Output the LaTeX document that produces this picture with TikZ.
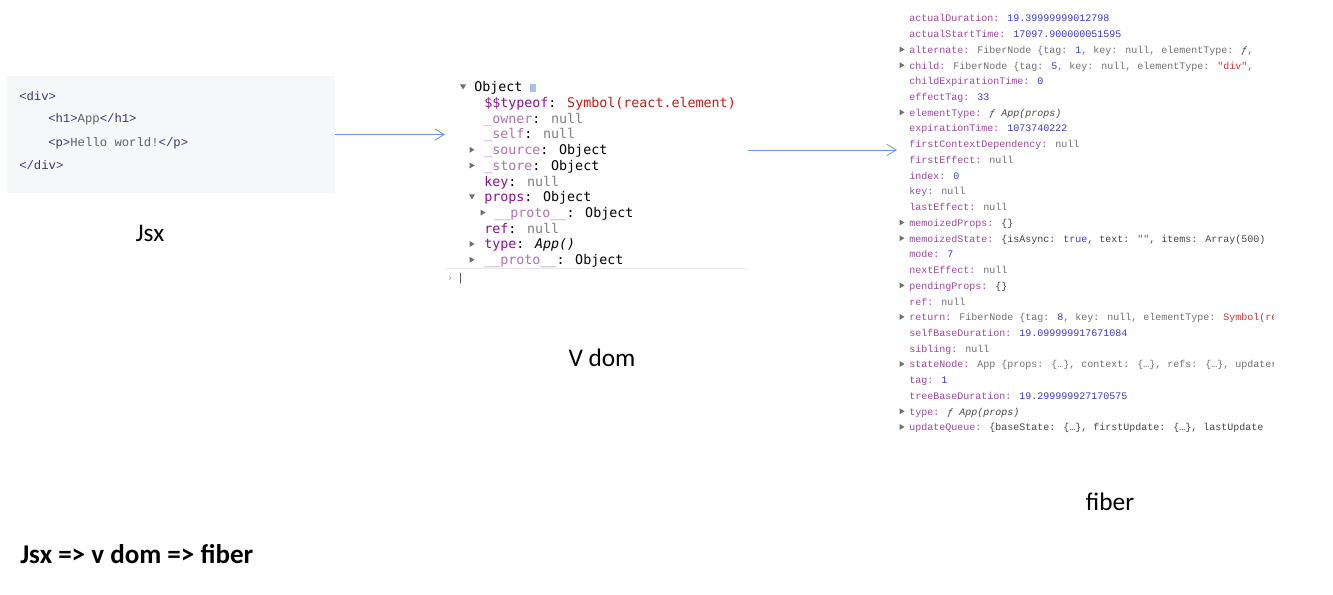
\documentclass[tikz,border=0pt]{standalone}
\usepackage{fontspec}
\usetikzlibrary{arrows.meta}
\newfontfamily\labfont{Carlito}
\newfontfamily\vmono{DejaVu Sans Mono}
\newfontfamily\fmono{Liberation Mono}
\definecolor{jsxbg}{HTML}{F6F7F9}
\definecolor{jtag}{HTML}{34346E}
\definecolor{jtxt}{HTML}{606060}
\definecolor{vkey}{HTML}{881391}
\definecolor{vfade}{HTML}{B071B0}
\definecolor{vnull}{HTML}{808080}
\definecolor{vred}{HTML}{C41A16}
\definecolor{fkey}{HTML}{9A4A9A}
\definecolor{fnum}{HTML}{3A3AC0}
\definecolor{fgray}{HTML}{707070}
\definecolor{fdark}{HTML}{444444}
\definecolor{fstr}{HTML}{C8383A}
\definecolor{trigray}{HTML}{707070}
\definecolor{arrblue}{HTML}{6C98D2}
\definecolor{sepgray}{HTML}{E8E8E8}
\definecolor{infoblue}{HTML}{A9C4E8}
\newcommand\K[1]{\textcolor{fkey}{#1}}
\newcommand\Nm[1]{\textcolor{fnum}{#1}}
\newcommand\St[1]{\textcolor{fstr}{#1}}
\newcommand\Dk[1]{\textcolor{fdark}{#1}}
\newcommand\rtri[2]{\fill[tri] (#1,#2) ++(-2.5,-3) -- ++(0,6) -- ++(5,-3) -- cycle;}
\newcommand\dtri[2]{\fill[tri] (#1,#2) ++(-3,-2.5) -- ++(6,0) -- ++(-3,5) -- cycle;}
\begin{document}
\begin{tikzpicture}[x=0.75pt,y=-0.75pt,
  txt/.style={inner sep=0pt, anchor=mid west},
  fib/.style={txt, yshift=-0.75pt, font=\fmono\fontsize{7.5}{9}\selectfont, text=fgray},
  vd/.style={txt, yshift=-1.5pt, font=\vmono\fontsize{10}{12}\selectfont, text=black},
  jx/.style={txt, yshift=-1.5pt, font=\fmono\fontsize{9.2}{11}\selectfont, text=jtag},
  lab/.style={inner sep=0pt, font=\labfont\fontsize{19}{23}\selectfont},
  tri/.style={fill=trigray},
  arr/.style={draw=arrblue, line width=0.6pt, -{Straight Barb[length=7pt,width=8.5pt,line width=0.6pt]}}]
\useasboundingbox (0,0) rectangle (1333,595);

% ---------- Jsx code panel ----------
\node[fill=jsxbg, inner sep=0pt, minimum width=328*0.75pt, minimum height=117*0.75pt] (jsxbox) at (171,134.5) {};
\node[jx] (j0) at (19,96) {<div>};
\node[jx] (j1) at (48,118) {<h1>\textcolor{jtxt}{App}</h1>};
\node[jx] (j2) at (48,142) {<p>\textcolor{jtxt}{Hello world!}</p>};
\node[jx] (j3) at (19,165) {</div>};
\node[lab] (jsxlab) at (150,233) {Jsx};

% ---------- V dom panel ----------
\dtri{463}{87}
\node[vd] (v0) at (474,87) {Object};
\fill[infoblue] (530,84) rectangle (536,92);
\node[vd] (v1) at (484,102.7) {\textcolor{vkey}{\$\$typeof}: \textcolor{vred}{Symbol(react.element)}};
\node[vd] (v2) at (484,118.4) {\textcolor{vfade}{\_owner}: \textcolor{vnull}{null}};
\node[vd] (v3) at (484,134.1) {\textcolor{vfade}{\_self}: \textcolor{vnull}{null}};
\rtri{472}{149.8}
\node[vd] (v4) at (484,149.8) {\textcolor{vfade}{\_source}: Object};
\rtri{472}{165.5}
\node[vd] (v5) at (484,165.5) {\textcolor{vfade}{\_store}: Object};
\node[vd] (v6) at (484,181.2) {\textcolor{vkey}{key}: \textcolor{vnull}{null}};
\dtri{472}{196.9}
\node[vd] (v7) at (484,196.9) {\textcolor{vkey}{props}: Object};
\rtri{483}{212.6}
\node[vd] (v8) at (494,212.6) {\textcolor{vfade}{\_\_proto\_\_}: Object};
\node[vd] (v9) at (484,228.3) {\textcolor{vkey}{ref}: \textcolor{vnull}{null}};
\rtri{472}{244}
\node[vd] (v10) at (484,244) {\textcolor{vkey}{type}: \textit{App()}};
\rtri{472}{259.7}
\node[vd] (v11) at (484,259.7) {\textcolor{vfade}{\_\_proto\_\_}: Object};
\draw[sepgray, line width=0.6pt] (445,268) -- (748,268);
\node[vd, text=arrblue, font=\vmono\fontsize{7}{8}\selectfont] (v12) at (447,277) {›};
\node[vd, text=fdark, font=\vmono\fontsize{8}{9}\selectfont] (v13) at (457,276.5) {|};
\node[lab] (vdomlab) at (602,358) {V dom};

% ---------- fiber panel ----------
\begin{scope}
\clip (895,0) rectangle (1273,440);
\foreach \i in {2,3,6,13,14,17,19,22,25,26} {\rtri{902}{18+15.73*\i}}
\node[fib] (f0) at (909,{18+15.73*0}) {\K{actualDuration:} \Nm{19.39999999012798}};
\node[fib] (f1) at (909,{18+15.73*1}) {\K{actualStartTime:} \Nm{17097.900000051595}};
\node[fib] (f2) at (909,{18+15.73*2}) {\K{alternate:} FiberNode \{tag: \Nm{1}, key: null, elementType: \Dk{\textit{ƒ}},};
\node[fib] (f3) at (909,{18+15.73*3}) {\K{child:} FiberNode \{tag: \Nm{5}, key: null, elementType: \St{"div"},};
\node[fib] (f4) at (909,{18+15.73*4}) {\K{childExpirationTime:} \Nm{0}};
\node[fib] (f5) at (909,{18+15.73*5}) {\K{effectTag:} \Nm{33}};
\node[fib] (f6) at (909,{18+15.73*6}) {\K{elementType:} \Dk{\textit{ƒ App(props)}}};
\node[fib] (f7) at (909,{18+15.73*7}) {\K{expirationTime:} \Nm{1073740222}};
\node[fib] (f8) at (909,{18+15.73*8}) {\K{firstContextDependency:} null};
\node[fib] (f9) at (909,{18+15.73*9}) {\K{firstEffect:} null};
\node[fib] (f10) at (909,{18+15.73*10}) {\K{index:} \Nm{0}};
\node[fib] (f11) at (909,{18+15.73*11}) {\K{key:} null};
\node[fib] (f12) at (909,{18+15.73*12}) {\K{lastEffect:} null};
\node[fib] (f13) at (909,{18+15.73*13}) {\K{memoizedProps:} \Dk{\{\}}};
\node[fib] (f14) at (909,{18+15.73*14}) {\K{memoizedState:} \Dk{\{isAsync: \Nm{true}, text: \St{""}, items: Array(500)}};
\node[fib] (f15) at (909,{18+15.73*15}) {\K{mode:} \Nm{7}};
\node[fib] (f16) at (909,{18+15.73*16}) {\K{nextEffect:} null};
\node[fib] (f17) at (909,{18+15.73*17}) {\K{pendingProps:} \Dk{\{\}}};
\node[fib] (f18) at (909,{18+15.73*18}) {\K{ref:} null};
\node[fib] (f19) at (909,{18+15.73*19}) {\K{return:} FiberNode \{tag: \Nm{8}, key: null, elementType: \St{Symbol(react)}};
\node[fib] (f20) at (909,{18+15.73*20}) {\K{selfBaseDuration:} \Nm{19.099999917671084}};
\node[fib] (f21) at (909,{18+15.73*21}) {\K{sibling:} null};
\node[fib] (f22) at (909,{18+15.73*22}) {\K{stateNode:} App \{props: \{…\}, context: \{…\}, refs: \{…\}, updater};
\node[fib] (f23) at (909,{18+15.73*23}) {\K{tag:} \Nm{1}};
\node[fib] (f24) at (909,{18+15.73*24}) {\K{treeBaseDuration:} \Nm{19.299999927170575}};
\node[fib] (f25) at (909,{18+15.73*25}) {\K{type:} \Dk{\textit{ƒ App(props)}}};
\node[fib] (f26) at (909,{18+15.73*26}) {\K{updateQueue:} \Dk{\{baseState: \{…\}, firstUpdate: \{…\}, lastUpdate}};
\end{scope}
\node[lab] (fiberlab) at (1110,502) {fiber};

% ---------- arrows ----------
\coordinate (a1e) at (445,134.5);
\coordinate (a2s) at (748,150);
\coordinate (a2e) at (897,150);
\draw[arr] (jsxbox.east) -- (a1e);
\draw[arr] (a2s) -- (a2e);

% ---------- title ----------
\node[lab, anchor=mid west, font=\labfont\bfseries\fontsize{20.3}{24}\selectfont] (title) at (20,561) {Jsx => v dom => fiber};
\end{tikzpicture}
\end{document}
